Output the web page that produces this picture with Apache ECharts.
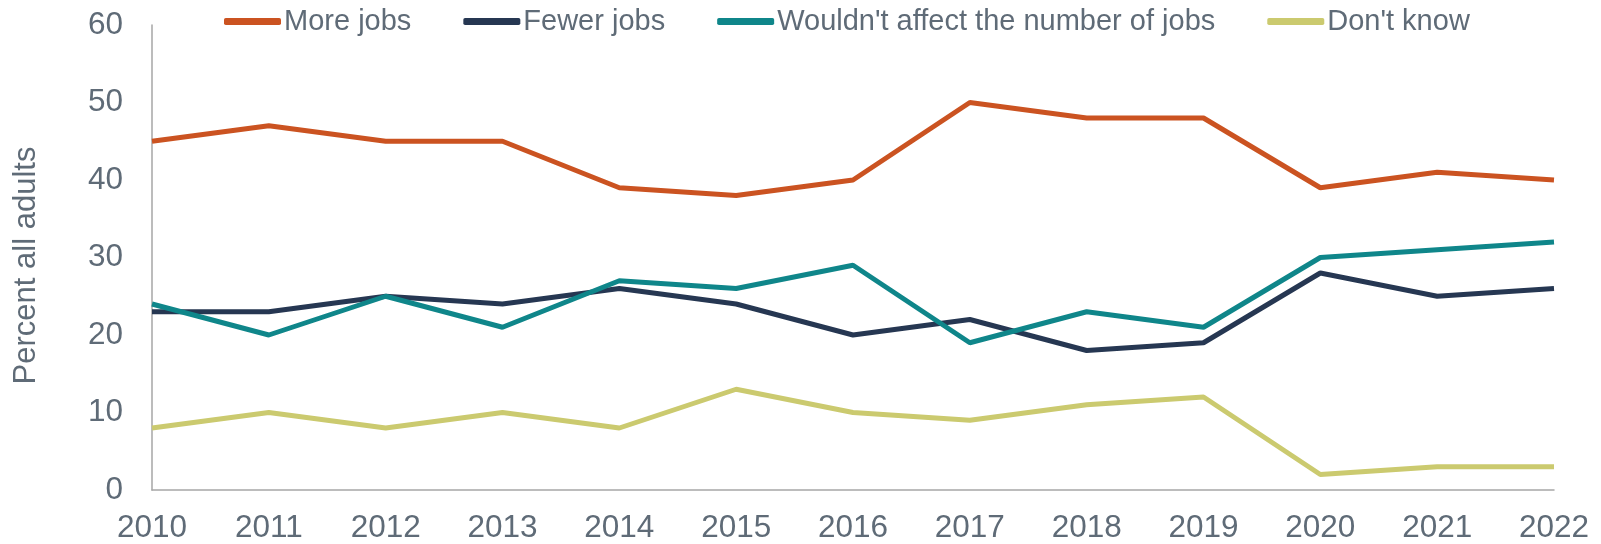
<!DOCTYPE html>
<html>
<head>
<meta charset="utf-8">
<script src="https://cdn.jsdelivr.net/npm/echarts@6/dist/echarts.min.js"></script>
<style>html,body{margin:0;padding:0;background:#fff;}#c{width:1601px;height:544px;}</style>
</head>
<body>
<div id="c"></div>
<script>
const years = ['2010','2011','2012','2013','2014','2015','2016','2017','2018','2019','2020','2021','2022'];
const moreJobs = [45,47,45,45,39,38,40,50,48,48,39,41,40];
const fewerJobs = [23,23,25,24,26,24,20,22,18,19,28,25,26];
const noEffect = [24,20,25,21,27,26,29,19,23,21,30,31,32];
const dontKnow = [8,10,8,10,8,13,10,9,11,12,2,3,3];
const seriesNames = ['More jobs','Fewer jobs',"Wouldn't affect the number of jobs","Don't know"];
const colors = ['#CB5321','#263752','#0F868A','#CBCA6F'];
const seriesData = [moreJobs, fewerJobs, noEffect, dontKnow];

const chart = echarts.init(document.getElementById('c'));
const font = 'Liberation Sans, Arial, sans-serif';
chart.setOption({
  animation: false,
  color: colors,
  grid: {left: 152, right: 47, top: 25, bottom: 53, containLabel: false},
  legend: {
    left: 219, top: 2, itemWidth: 57, itemHeight: 7, itemGap: 52,
    icon: 'roundRect',
    textStyle: {fontFamily: font, fontSize: 29, color: '#5F6B77', padding: [0,0,0,-2]},
    data: seriesNames
  },
  xAxis: {
    type: 'category', data: years, boundaryGap: false,
    axisLine: {lineStyle: {color: '#A6A6A6', width: 1.5}},
    axisTick: {show: false},
    axisLabel: {fontFamily: font, fontSize: 31.5, color: '#5F6B77', margin: 22}
  },
  yAxis: {
    type: 'value', min: 0, max: 60, interval: 10,
    name: 'Percent all adults', nameLocation: 'middle', nameGap: 110,
    nameTextStyle: {fontFamily: font, fontSize: 31, color: '#5F6B77', padding: [0,16,0,0]},
    axisLine: {show: true, lineStyle: {color: '#A6A6A6', width: 1.5}},
    axisTick: {show: false},
    splitLine: {show: false},
    axisLabel: {fontFamily: font, fontSize: 31.5, color: '#5F6B77', margin: 29}
  },
  series: seriesData.map((d, i) => ({
    name: seriesNames[i], type: 'line', data: d, symbol: 'none',
    lineStyle: {width: 5, color: colors[i]}, itemStyle: {color: colors[i]}
  }))
});
</script>
</body>
</html>
